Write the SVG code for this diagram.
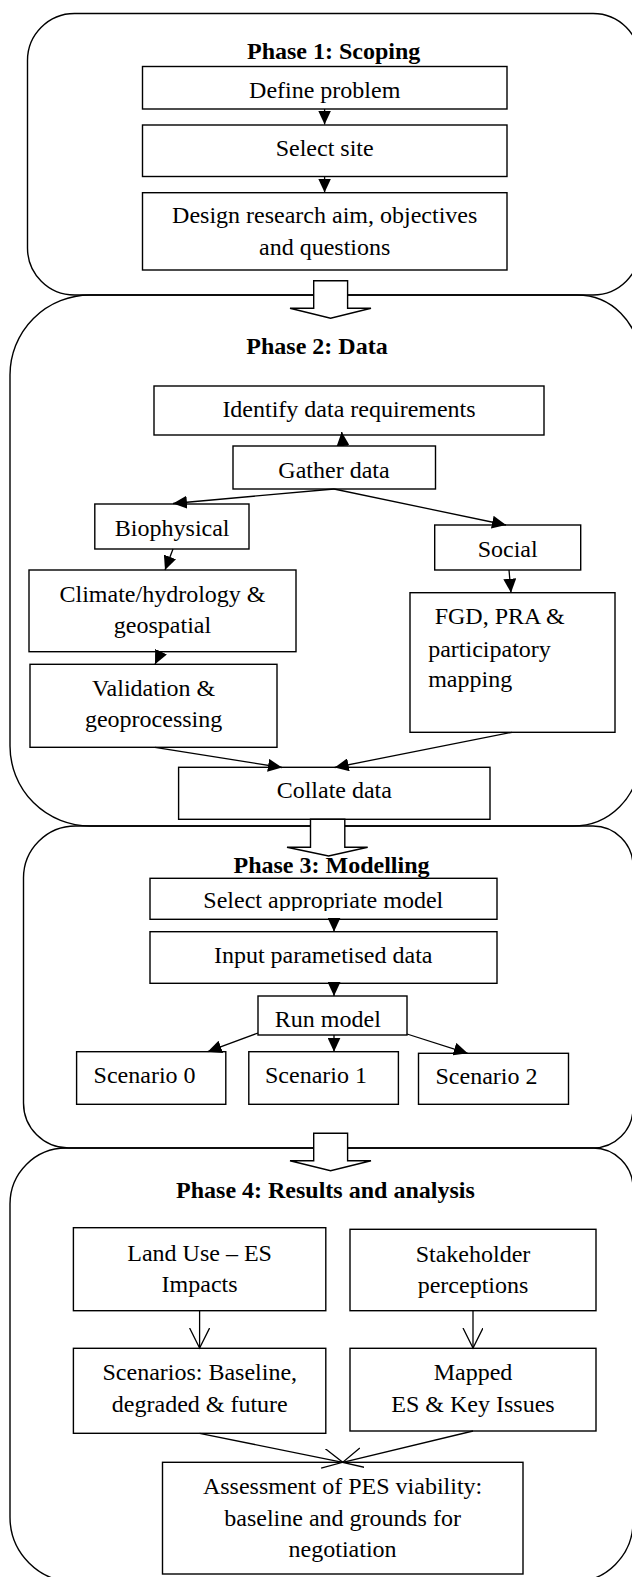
<svg xmlns="http://www.w3.org/2000/svg" width="632" height="1577" viewBox="0 0 632 1577">
  <style>
    .phase { fill: none; stroke: #000; stroke-width: 1.4; }
    .box { fill: #fff; stroke: #000; stroke-width: 1.4; }
    .t { font-family: "Liberation Serif", "Times New Roman", serif; font-size: 24px; fill: #000; }
    .c { text-anchor: middle; }
    .title { font-weight: bold; text-anchor: middle; }
    .link { fill: none; stroke: #000; stroke-width: 1.3; }
    .solid { marker-end: url(#head); }
    .open { marker-end: url(#vhead); }
    .block { fill: #fff; stroke: #000; stroke-width: 1.4; stroke-linejoin: miter; }
  </style>
  <defs>
    <marker id="head" markerUnits="userSpaceOnUse" markerWidth="15" markerHeight="13" refX="14" refY="6.5" orient="auto">
      <path d="M0,0 L14,6.5 L0,13 Z" fill="#000"/>
    </marker>
    <marker id="vhead" markerUnits="userSpaceOnUse" markerWidth="22" markerHeight="22" refX="20" refY="10" orient="auto">
      <path d="M0,0 L20,10 L0,20" fill="none" stroke="#000" stroke-width="1.3"/>
    </marker>
    <!-- the model label sits low in its box, so its descenders are cut at the box -->
    <clipPath id="selectClip">
      <rect x="150" y="870" width="347" height="41"/>
    </clipPath>
  </defs>
  <rect width="632" height="1577" fill="#fff"/>

  <!-- phase containers -->
  <g id="phase1">
    <path class="phase" d="M74.5,13.5 H593 A47,47 0 0 1 640,60.5 V248 A47,47 0 0 1 593,295 H74.5 A47,47 0 0 1 27.5,248 V60.5 A47,47 0 0 1 74.5,13.5 Z"/>
    <text class="t title" x="333.7" y="59.3">Phase 1: Scoping</text>
  </g>
  <g id="phase2">
    <path class="phase" d="M90,295 H577 A62,62 0 0 1 639,357 V760 A66,66 0 0 1 573,826 H90 A80,80 0 0 1 10,746 V375 A80,80 0 0 1 90,295 Z"/>
    <text class="t title" x="317" y="354">Phase 2: Data</text>
  </g>
  <g id="phase3">
    <path class="phase" d="M75.5,826 H593 A40,40 0 0 1 633,866 V1108 A40,40 0 0 1 593,1148 H68.5 A45,45 0 0 1 23.5,1103 V878 A52,52 0 0 1 75.5,826 Z"/>
    <text class="t title" x="331.5" y="873.3">Phase 3: Modelling</text>
  </g>
  <g id="phase4">
    <path class="phase" d="M66,1148 H593 A40,40 0 0 1 633,1188 V1522 A60,60 0 0 1 573,1582 H75 A65,65 0 0 1 10,1517 V1204 A56,56 0 0 1 66,1148 Z"/>
    <text class="t title" x="325.4" y="1198.3">Phase 4: Results and analysis</text>
  </g>

  <!-- Phase 1 steps -->
  <g id="define-problem">
    <rect class="box" x="142.5" y="66.5" width="364.5" height="42.5"/>
    <text class="t c" x="324.7" y="98.3">Define problem</text>
  </g>
  <g id="select-site">
    <rect class="box" x="142.5" y="125" width="364.5" height="51.5"/>
    <text class="t c" x="324.7" y="156">Select site</text>
  </g>
  <g id="design-research">
    <rect class="box" x="142.5" y="192.7" width="364.5" height="77.3"/>
    <text class="t c" x="324.7" y="222.7">Design research aim, objectives</text>
    <text class="t c" x="324.7" y="255">and questions</text>
  </g>

  <!-- Phase 2 steps -->
  <g id="identify-data">
    <rect class="box" x="154" y="386" width="390" height="49"/>
    <text class="t c" x="349" y="417.3">Identify data requirements</text>
  </g>
  <g id="gather-data">
    <rect class="box" x="233" y="446" width="202.5" height="43"/>
    <text class="t c" x="334" y="478.3">Gather data</text>
  </g>
  <g id="biophysical">
    <rect class="box" x="94.8" y="504" width="154.2" height="45"/>
    <text class="t c" x="172.2" y="535.7">Biophysical</text>
  </g>
  <g id="social">
    <rect class="box" x="434.7" y="525" width="146" height="45"/>
    <text class="t c" x="507.7" y="556.7">Social</text>
  </g>
  <g id="climate">
    <rect class="box" x="29" y="570" width="267" height="81.7"/>
    <text class="t c" x="162.5" y="602.3">Climate/hydrology &amp;</text>
    <text class="t c" x="162.5" y="633.3">geospatial</text>
  </g>
  <g id="validation">
    <rect class="box" x="30" y="664.3" width="247" height="83"/>
    <text class="t c" x="153.6" y="695.7">Validation &amp;</text>
    <text class="t c" x="153.6" y="726.7">geoprocessing</text>
  </g>
  <g id="fgd-pra">
    <rect class="box" x="410" y="592.7" width="205" height="139.6"/>
    <text class="t" x="434.7" y="624">FGD, PRA &amp;</text>
    <text class="t" x="428.2" y="656.7">participatory</text>
    <text class="t" x="428.2" y="687.3">mapping</text>
  </g>
  <g id="collate-data">
    <rect class="box" x="178.6" y="767.3" width="311.4" height="52"/>
    <text class="t c" x="334.3" y="798.3">Collate data</text>
  </g>

  <!-- Phase 3 steps -->
  <g id="select-model">
    <rect class="box" x="150" y="878.3" width="347" height="41"/>
    <text class="t c" x="323.3" y="908.3" clip-path="url(#selectClip)">Select appropriate model</text>
  </g>
  <g id="input-data">
    <rect class="box" x="150" y="931.7" width="347" height="51.6"/>
    <text class="t c" x="323.2" y="962.7">Input parametised data</text>
  </g>
  <g id="run-model">
    <rect class="box" x="258" y="996" width="149" height="39"/>
    <text class="t c" x="327.8" y="1026.7">Run model</text>
  </g>
  <g id="scenario-0">
    <rect class="box" x="76.6" y="1051.7" width="149.2" height="52.6"/>
    <text class="t c" x="144.6" y="1082.7">Scenario 0</text>
  </g>
  <g id="scenario-1">
    <rect class="box" x="248.8" y="1051.7" width="149.6" height="52.6"/>
    <text class="t c" x="316" y="1082.7">Scenario 1</text>
  </g>
  <g id="scenario-2">
    <rect class="box" x="418.5" y="1053.3" width="150" height="51"/>
    <text class="t c" x="486.5" y="1084">Scenario 2</text>
  </g>

  <!-- Phase 4 steps -->
  <g id="land-use">
    <rect class="box" x="73.4" y="1227.7" width="252.4" height="83"/>
    <text class="t c" x="199.6" y="1260.7">Land Use – ES</text>
    <text class="t c" x="199.6" y="1291.7">Impacts</text>
  </g>
  <g id="stakeholder">
    <rect class="box" x="350" y="1229.3" width="246" height="81.4"/>
    <text class="t c" x="473" y="1261.7">Stakeholder</text>
    <text class="t c" x="473" y="1292.7">perceptions</text>
  </g>
  <g id="scenarios">
    <rect class="box" x="73.4" y="1348.3" width="252.4" height="85"/>
    <text class="t c" x="199.8" y="1380">Scenarios: Baseline,</text>
    <text class="t c" x="199.8" y="1411.7">degraded &amp; future</text>
  </g>
  <g id="mapped-es">
    <rect class="box" x="350" y="1348.3" width="246" height="82.7"/>
    <text class="t c" x="473" y="1380">Mapped</text>
    <text class="t c" x="473" y="1411.7">ES &amp; Key Issues</text>
  </g>
  <g id="assessment">
    <rect class="box" x="162.5" y="1462.3" width="360.5" height="111.7"/>
    <text class="t c" x="342.6" y="1494">Assessment of PES viability:</text>
    <text class="t c" x="342.6" y="1525.7">baseline and grounds for</text>
    <text class="t c" x="342.6" y="1557.3">negotiation</text>
  </g>

  <!-- connectors -->
  <g id="connectors">
    <path class="block" d="M313.7,280.7 H347.6 V308.3 H371 L330.6,318.3 L290,308.3 H313.7 Z"/>
    <path class="block" d="M310.5,819.3 H344.8 V847.3 H367.7 L328.6,856 L287,847.3 H310.5 Z"/>
    <path class="block" d="M313.7,1133.3 H347.6 V1160.7 H371 L330.6,1170.7 L290,1160.7 H313.7 Z"/>

    <line class="link solid" x1="324.6" y1="109" x2="324.6" y2="124.5"/>
    <line class="link solid" x1="324.6" y1="176.7" x2="324.6" y2="192.5"/>

    <line class="link solid" x1="343" y1="446" x2="341.7" y2="432"/>
    <line class="link solid" x1="334" y1="489" x2="173" y2="503.5"/>
    <line class="link solid" x1="334" y1="489" x2="506" y2="525"/>
    <line class="link solid" x1="173" y1="549" x2="165" y2="570"/>
    <line class="link solid" x1="509" y1="570" x2="511" y2="592.7"/>
    <line class="link solid" x1="161" y1="651.7" x2="155" y2="664.3"/>
    <line class="link solid" x1="155" y1="747.3" x2="282" y2="767.5"/>
    <line class="link solid" x1="512" y1="732.3" x2="334.7" y2="767.5"/>

    <line class="link solid" x1="334" y1="919.3" x2="334" y2="931.7"/>
    <line class="link solid" x1="334" y1="983.3" x2="334" y2="996"/>
    <line class="link solid" x1="258" y1="1033" x2="207.7" y2="1051.7"/>
    <line class="link solid" x1="334" y1="1035" x2="334" y2="1051.7"/>
    <line class="link solid" x1="407" y1="1034" x2="467.7" y2="1053.3"/>

    <line class="link open" x1="199.6" y1="1310.7" x2="199.6" y2="1348"/>
    <line class="link open" x1="473" y1="1310.7" x2="473" y2="1348"/>
    <line class="link open" x1="199.6" y1="1433.3" x2="342.7" y2="1462.3"/>
    <line class="link open" x1="473" y1="1431" x2="342.7" y2="1462.3"/>
  </g>
</svg>
